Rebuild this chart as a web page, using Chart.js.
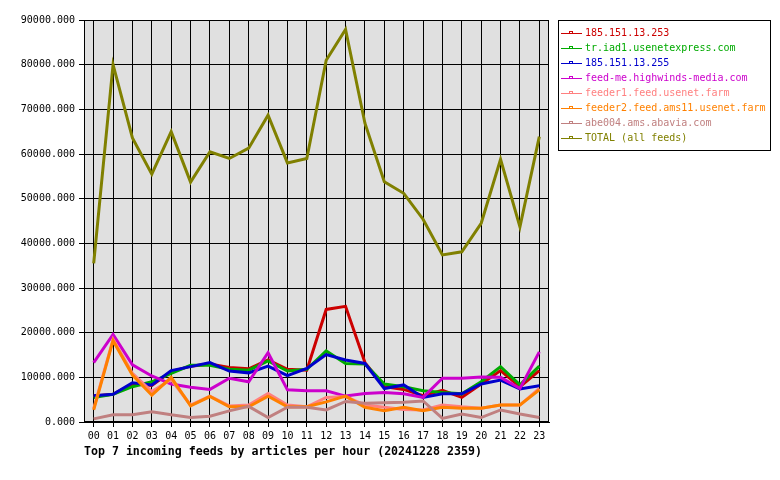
<!DOCTYPE html>
<html>
<head>
<meta charset="utf-8">
<script src="https://cdn.jsdelivr.net/npm/chart.js@4/dist/chart.umd.min.js"></script>
<style>
  html, body { margin: 0; padding: 0; background: #fff; }
  #wrap { width: 780px; height: 480px; }
</style>
</head>
<body>
<div id="wrap"><canvas id="feeds" width="780" height="480"></canvas></div>
<script>
  'use strict';

  const hours = ['00', '01', '02', '03', '04', '05', '06', '07', '08', '09', '10', '11',
    '12', '13', '14', '15', '16', '17', '18', '19', '20', '21', '22', '23'];

  const feedNames = [
    '185.151.13.253',
    'tr.iad1.usenetexpress.com',
    '185.151.13.255',
    'feed-me.highwinds-media.com',
    'feeder1.feed.usenet.farm',
    'feeder2.feed.ams11.usenet.farm',
    'abe004.ams.abavia.com',
    'TOTAL (all feeds)'
  ];

  const feed253 = [5800, 6200, 8500, 8200, 11300, 12500, 13000, 12200, 11900, 13900, 11800, 11600,
    25200, 25900, 13300, 7900, 7300, 5900, 7100, 5500, 8500, 11500, 7900, 11500];
  const usenetExpress = [5500, 6200, 7900, 9000, 10900, 12700, 12700, 11800, 11600, 13700, 11400, 11800,
    15900, 13100, 13000, 8500, 7900, 7000, 6600, 6300, 9000, 12400, 8300, 12500];
  const feed255 = [5900, 6200, 8800, 8300, 11500, 12400, 13300, 11400, 11000, 12500, 10400, 12000,
    15100, 13900, 13100, 7500, 8300, 5500, 6300, 6300, 8500, 9400, 7400, 8100];
  const highwinds = [13300, 19600, 12800, 10300, 8500, 7800, 7300, 9800, 9000, 15500, 7200, 7000,
    7000, 5800, 6400, 6600, 6300, 5500, 9800, 9800, 10100, 10000, 7500, 15700];
  const feeder1 = [3000, 18500, 10900, 6800, 9500, 3800, 5800, 3600, 3800, 6400, 3800, 3400,
    5500, 5700, 3800, 3300, 2800, 2700, 3800, 3400, 3100, 3800, 3800, 7500];
  const feeder2 = [2700, 18200, 10500, 6000, 10000, 3600, 5700, 3400, 3400, 5800, 3400, 3400,
    4500, 5800, 3300, 2500, 3300, 2500, 3300, 3100, 3100, 3800, 3800, 7200];
  const abavia = [700, 1600, 1600, 2300, 1600, 1000, 1300, 2500, 3500, 1000, 3300, 3300,
    2700, 4600, 4200, 4300, 4400, 4700, 800, 1800, 1000, 2700, 1800, 1000];
  const total = [35500, 80000, 63600, 55500, 65000, 53700, 60500, 59000, 61300, 68700, 58000, 59000,
    81000, 87900, 66900, 53800, 51200, 45400, 37400, 38100, 44500, 58800, 43700, 63900];

  const feedColors = ['#cc0000', '#00aa00', '#0000cc', '#cc00cc', '#ff8080', '#ff8000', '#c08080', '#808000'];
  const yTicks = [0, 10000, 20000, 30000, 40000, 50000, 60000, 70000, 80000, 90000];

  const series = [feed253, usenetExpress, feed255, highwinds, feeder1, feeder2, abavia, total];
  const monoFont = "'DejaVu Sans Mono', 'Liberation Mono', monospace";

  Chart.defaults.font.family = monoFont;
  Chart.defaults.font.size = 10;
  Chart.defaults.color = '#000';

  // grey plot background and closing frame
  const plotFrame = {
    id: 'plotFrame',
    beforeDraw: function (chart) {
      const a = chart.chartArea;
      const ctx = chart.ctx;
      ctx.save();
      ctx.fillStyle = '#e0e0e0';
      ctx.fillRect(a.left, a.top, a.right - a.left, a.bottom - a.top);
      ctx.restore();
    },
    afterDatasetsDraw: function (chart) {
      const a = chart.chartArea;
      const ctx = chart.ctx;
      ctx.save();
      ctx.strokeStyle = '#000';
      ctx.lineWidth = 1;
      ctx.strokeRect(Math.round(a.left) + 0.5, Math.round(a.top) + 0.5,
        Math.round(a.right - a.left) - 1, Math.round(a.bottom - a.top) - 1);
      ctx.restore();
    }
  };

  // boxed legend on the right and title underneath
  const sideLegend = {
    id: 'sideLegend',
    afterDraw: function (chart) {
      const ctx = chart.ctx;
      ctx.save();
      ctx.strokeStyle = '#000';
      ctx.lineWidth = 1;
      ctx.strokeRect(558.5, 20.5, 212, 130);
      ctx.font = '10px ' + monoFont;
      ctx.textBaseline = 'middle';
      feedNames.forEach(function (name, i) {
        const y = 33 + i * 15 + 0.5;
        ctx.strokeStyle = feedColors[i];
        ctx.fillStyle = feedColors[i];
        ctx.beginPath();
        ctx.moveTo(561, y);
        ctx.lineTo(582, y);
        ctx.stroke();
        ctx.strokeRect(569.5, y - 2, 3, 2);
        ctx.fillText(name, 585, y);
      });
      ctx.fillStyle = '#000';
      ctx.font = 'bold 11.6px ' + monoFont;
      ctx.fillText('Top 7 incoming feeds by articles per hour (20241228 2359)', 84, 452);
      ctx.restore();
    }
  };

  new Chart(document.getElementById('feeds'), {
    type: 'line',
    data: {
      labels: hours,
      datasets: series.map(function (values, i) {
        return {
          label: feedNames[i],
          data: values,
          borderColor: feedColors[i],
          backgroundColor: feedColors[i],
          borderWidth: 3,
          pointRadius: 0,
          tension: 0,
          order: series.length - i
        };
      })
    },
    options: {
      responsive: false,
      animation: false,
      events: [],
      layout: { padding: { left: 0, top: 20, right: 231, bottom: 0 } },
      plugins: {
        legend: { display: false },
        title: { display: false },
        tooltip: { enabled: false }
      },
      scales: {
        x: {
          offset: true,
          afterFit: function (s) { s.height = 58; },
          grid: { color: '#000', lineWidth: 1, offset: false, tickLength: 5 },
          border: { color: '#000' },
          ticks: { padding: 3, maxRotation: 0, autoSkip: false }
        },
        y: {
          min: 0,
          max: 90000,
          afterFit: function (s) { s.width = 84; },
          afterBuildTicks: function (s) {
            s.ticks = yTicks.map(function (v) { return { value: v }; });
          },
          grid: { color: '#000', lineWidth: 1, tickLength: 5 },
          border: { color: '#000' },
          ticks: {
            padding: 4,
            callback: function (v) { return Number(v).toFixed(3); }
          }
        }
      }
    },
    plugins: [plotFrame, sideLegend]
  });
</script>
</body>
</html>
